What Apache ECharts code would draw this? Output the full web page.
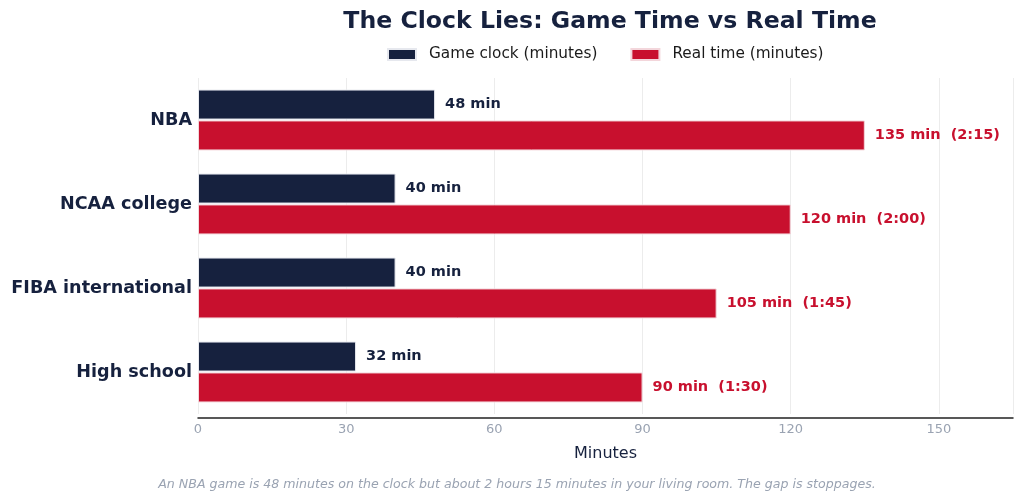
<!DOCTYPE html>
<html lang="en">
<head>
    <meta charset="UTF-8">
    <title>The Clock Lies</title>
    <style>
        html, body { margin: 0; padding: 0; background: #fff; }
    </style>
</head>
<body>
    <div id="chart" style="width:1024px; height:502px"></div>

    <script src="https://cdn.jsdelivr.net/npm/echarts@6/dist/echarts.min.js"></script>
    <script>
        // data
        const leagues = ['NBA', 'NCAA college', 'FIBA international', 'High school'];
        const gameClock = [48, 40, 40, 32];
        const realTime = [135, 120, 105, 90];
        const realLabels = ['2:15', '2:00', '1:45', '1:30'];
        const xTicks = [0, 30, 60, 90, 120, 150];

        const NAVY = '#16213e';
        const RED = '#c8102e';
        const FONT = 'DejaVu Sans';

        const chart = echarts.init(document.getElementById('chart'));

        chart.setOption({
            textStyle: { fontFamily: FONT },
            title: [{
                text: 'The Clock Lies: Game Time vs Real Time',
                left: 605,
                textAlign: 'center',
                top: 5,
                textStyle: { fontSize: 23.6, fontWeight: 'bold', color: NAVY, fontFamily: FONT }
            }, {
                text: 'An NBA game is 48 minutes on the clock but about 2 hours 15 minutes in your living room. The gap is stoppages.',
                left: 512,
                textAlign: 'center',
                top: 473,
                textStyle: { fontSize: 12.6, fontStyle: 'italic', fontWeight: 'normal', color: '#9aa3b2', fontFamily: FONT }
            }],
            legend: {
                top: 42,
                left: 382,
                itemWidth: 28,
                itemHeight: 11,
                itemGap: 33,
                icon: 'rect',
                textStyle: { fontSize: 15.3, color: '#1a1a1a', fontFamily: FONT, padding: [0, 0, 0, 8] },
                data: ['Game clock (minutes)', 'Real time (minutes)']
            },
            grid: { left: 198, right: 11, top: 78, bottom: 88 },
            xAxis: {
                type: 'value',
                min: 0,
                max: 165,
                interval: 30,
                offset: 4,
                name: 'Minutes',
                nameLocation: 'middle',
                nameGap: 28,
                nameTextStyle: { fontSize: 16, color: NAVY },
                axisLine: { show: true, lineStyle: { color: '#222', width: 1.5 } },
                axisTick: { show: false },
                axisLabel: {
                    fontSize: 13,
                    color: '#9aa3b2',
                    margin: 5,
                    formatter: v => xTicks.includes(v) ? String(v) : ''
                },
                splitLine: { show: true, lineStyle: { color: '#ececec', width: 1 } }
            },
            yAxis: {
                type: 'category',
                inverse: true,
                data: leagues,
                axisLine: { show: false },
                axisTick: { show: false },
                axisLabel: { fontSize: 17.6, fontWeight: 'bold', color: NAVY, margin: 6, padding: [4, 0, 0, 0] }
            },
            series: [{
                name: 'Game clock (minutes)',
                type: 'bar',
                data: gameClock,
                barWidth: 30,
                barGap: '3%',
                itemStyle: { color: NAVY, borderColor: '#e6e8ee', borderWidth: 1 },
                label: {
                    show: true,
                    position: 'right',
                    distance: 10,
                    fontSize: 14.5,
                    fontWeight: 'bold',
                    color: NAVY,
                    formatter: p => p.value + ' min'
                }
            }, {
                name: 'Real time (minutes)',
                type: 'bar',
                data: realTime,
                barWidth: 30,
                barGap: '3%',
                itemStyle: { color: RED, borderColor: '#f3d6db', borderWidth: 1 },
                label: {
                    show: true,
                    position: 'right',
                    distance: 10,
                    fontSize: 14.5,
                    fontWeight: 'bold',
                    color: RED,
                    formatter: p => p.value + ' min  (' + realLabels[p.dataIndex] + ')'
                }
            }]
        });
    </script>
</body>
</html>
